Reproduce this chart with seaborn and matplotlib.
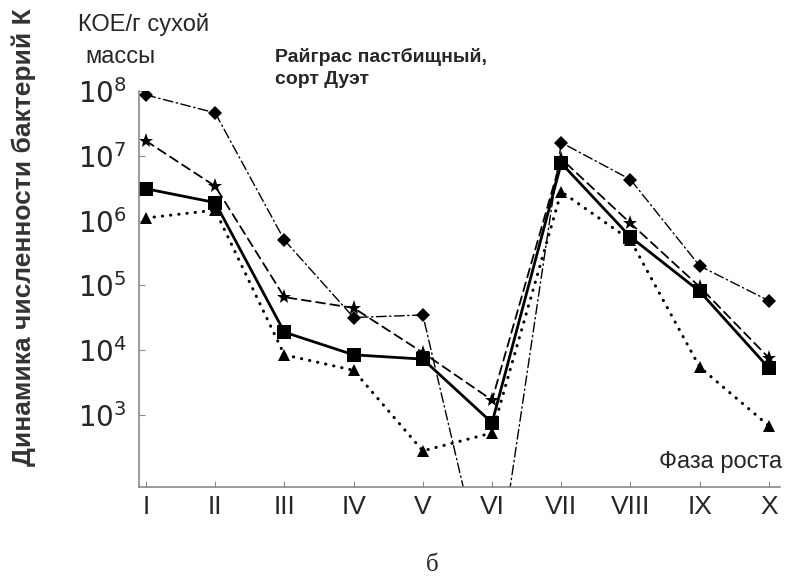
import numpy as np
import pandas as pd
import matplotlib
matplotlib.use("Agg")
import matplotlib.pyplot as plt
import seaborn as sns

# ── Data ──────────────────────────────────────────────────────────────────────
phases = ["I", "II", "III", "IV", "V", "VI", "VII", "VIII", "IX", "X"]

diamond = [8.7e7, 4.6e7, 5.0e5, 3.2e4, 3.5e4, 1.0e0, 1.6e7, 4.3e6, 2.0e5, 5.8e4]
star = [1.7e7, 3.4e6, 6.6e4, 4.5e4, 9.2e3, 1.7e3, 9.0e6, 9.1e5, 9.5e4, 7.6e3]
square = [3.1e6, 1.9e6, 1.9e4, 8.5e3, 7.3e3, 7.6e2, 7.7e6, 5.6e5, 8.1e4, 5.3e3]
triangle = [1.1e6, 1.45e6, 8.5e3, 4.9e3, 2.8e2, 5.3e2, 2.8e6, 5.0e5, 5.5e3, 6.8e2]

ytick_vals = [1e3, 1e4, 1e5, 1e6, 1e7, 1e8]

# ── Style ─────────────────────────────────────────────────────────────────────
sns.set_theme(style="white")
plt.rcParams["font.family"] = ["Liberation Sans", "DejaVu Sans"]
plt.rcParams["mathtext.fontset"] = "dejavusans"

W, H = 786, 581
fig = plt.figure(figsize=(W / 100, H / 100), dpi=100)
ax = fig.add_axes([139 / W, 1 - 487 / H, (780 - 139) / W, (487 - 91) / H])
ax.set_yscale("log")

x = np.arange(len(phases))
series = [
    (diamond, "D", (0, (7, 2.5, 1, 2.5)), 1.0, 7.5),
    (star, "*", (0, (5, 3)), 1.3, 11),
    (square, "s", "-", 2.0, 10),
    (triangle, "^", (0, (0.1, 2.6)), 2.2, 8),
]
for vals, mk, ls, lw, ms in series:
    df = pd.DataFrame({"phase": x, "cfu": vals})
    sns.lineplot(data=df, x="phase", y="cfu", ax=ax, color="black",
                 marker=mk, markersize=ms, markeredgewidth=0,
                 linestyle=ls, linewidth=lw, dash_capstyle="round",
                 clip_on=True)

ax.set_xlim(-0.1, 9.16)
ax.set_ylim(10 ** 1.89, 10 ** 8.0)

ax.set_xticks(x)
ax.set_xticklabels(phases, fontsize=19)
ax.set_yticks(ytick_vals)
ax.set_yticklabels([rf"$10^{{{int(np.log10(v))}}}$" for v in ytick_vals],
                   fontsize=20, family="DejaVu Sans")
ax.minorticks_off()
ax.tick_params(axis="both", direction="in", length=4, width=0.8,
               color="#8a8a8a", left=True, bottom=True)
ax.tick_params(axis="x", pad=6)
ax.tick_params(axis="y", pad=9)
ax.set_xlabel("")
ax.set_ylabel("")

for side in ["top", "right"]:
    ax.spines[side].set_visible(False)
for side in ["left", "bottom"]:
    ax.spines[side].set_color("#8a8a8a")
    ax.spines[side].set_linewidth(1.2)

# ── Texts ─────────────────────────────────────────────────────────────────────
fig.text(24 / W, 1 - 466 / H, "Динамика численности бактерий К",
         rotation=90, ha="center", va="bottom", fontsize=19,
         fontweight="bold", color="#333333")
fig.text(78 / W, 1 - 25 / H, "КОЕ/г сухой", fontsize=17, va="center")
fig.text(85 / W, 1 - 57 / H, "массы", fontsize=17, va="center")
fig.text(275 / W, 1 - 57 / H, "Райграс пастбищный,", fontsize=14,
         fontweight="bold", va="center")
fig.text(275 / W, 1 - 80 / H, "сорт Дуэт", fontsize=14,
         fontweight="bold", va="center")
fig.text(782 / W, 1 - 462 / H, "Фаза роста", fontsize=17,
         ha="right", va="center")
fig.text(432 / W, 1 - 565 / H, "б", fontsize=18, family="Liberation Serif",
         ha="center", va="center")

plt.savefig("out.png", dpi=100)
